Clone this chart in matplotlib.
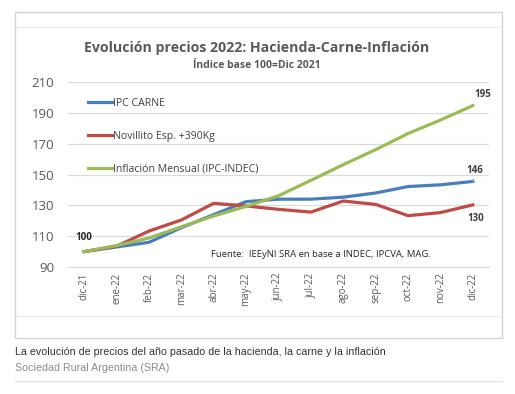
import matplotlib.pyplot as plt
from matplotlib.lines import Line2D
from matplotlib.patches import Rectangle

plt.rcParams['font.family'] = ['Open Sans', 'DejaVu Sans']

# data
months = ["dic-21", "ene-22", "feb-22", "mar-22", "abr-22", "may-22", "jun-22",
          "jul-22", "ago-22", "sep-22", "oct-22", "nov-22", "dic-22"]
ipc_carne = [100, 103, 106, 115.5, 124, 132.4, 134, 134, 135.3, 138, 142.2, 143.3, 145.5]
novillito = [100, 103.5, 113.3, 120.5, 131.3, 129.6, 127.4, 125.6, 132.8, 130.6, 123.3, 125.3, 130.3]
inflacion = [100, 103.9, 108.8, 116.1, 123.1, 129.3, 136.2, 146.2, 156.4, 166.1, 176.6, 185.3, 194.7]
yticks = [90, 110, 130, 150, 170, 190, 210]

W, H = 515, 394
fig = plt.figure(figsize=(W / 100, H / 100), dpi=100)

# frame around the chart image
fig.patches.append(Rectangle((15 / W, 1 - 338 / H), 487 / W, 326 / H, transform=fig.transFigure,
                             fill=False, edgecolor="#d4d4d4", linewidth=1))
for yy in [27, 316]:
    fig.add_artist(Line2D([16 / W, 501 / W], [1 - yy / H] * 2, color="#ececec", lw=0.8))
fig.add_artist(Line2D([15 / W, 502 / W], [1 - 381 / H] * 2, color="#e2e2e2", lw=0.8))

ax = fig.add_axes([68 / W, 1 - 267 / H, 421 / W, 185 / H])
x = range(len(months))
ax.plot(x, ipc_carne, color="#4a7ebb", lw=2.3, label="IPC CARNE")
ax.plot(x, novillito, color="#be4b48", lw=2.3, label="Novillito Esp. +390Kg")
ax.plot(x, inflacion, color="#9bbb59", lw=2.3, label="Inflación Mensual (IPC-INDEC)")

ax.set_xlim(-0.5, len(months) - 0.5)
ax.set_ylim(90, 210)
ax.set_yticks(yticks)
ax.set_xticks(list(x))
ax.set_xticklabels(months, rotation=90, fontsize=7, color="#595959")
ax.tick_params(axis="y", labelsize=9.5, colors="#595959", length=0, pad=10)
ax.tick_params(axis="x", length=0, pad=4)
ax.grid(axis="y", color="#d9d9d9", lw=0.8)
ax.set_axisbelow(True)
for s in ["top", "right", "left"]:
    ax.spines[s].set_visible(False)
ax.spines["bottom"].set_color("#d9d9d9")

leg = ax.legend(loc="upper left", bbox_to_anchor=(0.025, 0.965), frameon=False, fontsize=7.6,
                handlelength=2.3, handletextpad=0.05, labelspacing=2.05, labelcolor="#404040")

# end labels
ax.annotate("100", (0, 100), xytext=(0, 8), textcoords="offset points", ha="center",
            fontsize=7, fontweight="bold", color="#262626")
ax.annotate("195", (12, inflacion[-1]), xytext=(12.3, 200), ha="center", fontsize=7,
            fontweight="bold", color="#404040",
            arrowprops=dict(arrowstyle="-", color="#a6a6a6", lw=0.6))
ax.annotate("146", (12, ipc_carne[-1]), xytext=(12.05, 151), ha="center", fontsize=7,
            fontweight="bold", color="#404040",
            arrowprops=dict(arrowstyle="-", color="#a6a6a6", lw=0.6))
ax.annotate("130", (12, novillito[-1]), xytext=(12.1, 120), ha="center", fontsize=7,
            fontweight="bold", color="#404040")

ax.text(0.6, 0.055, "Fuente:  IEEyNI SRA en base a INDEC, IPCVA, MAG.", transform=ax.transAxes,
        ha="center", fontsize=6.8, color="#262626")

fig.text(257 / W, 1 - 48 / H, "Evolución precios 2022: Hacienda-Carne-Inflación", ha="center",
         va="center", fontsize=10.2, fontweight="bold", color="#595959")
fig.text(257 / W, 1 - 65 / H, "Índice base 100=Dic 2021", ha="center", va="center",
         fontsize=7.5, fontweight="bold", color="#595959")

fig.text(15 / W, 1 - 352 / H, "La evolución de precios del año pasado de la hacienda, la carne y la inflación",
         ha="left", va="center", fontsize=7.7, color="#333333", family=["Liberation Sans"])
fig.text(15 / W, 1 - 368 / H, "Sociedad Rural Argentina (SRA)", ha="left", va="center",
         fontsize=7.7, color="#8c8c8c", family=["Liberation Sans"])

fig.savefig("out.png", dpi=100)
